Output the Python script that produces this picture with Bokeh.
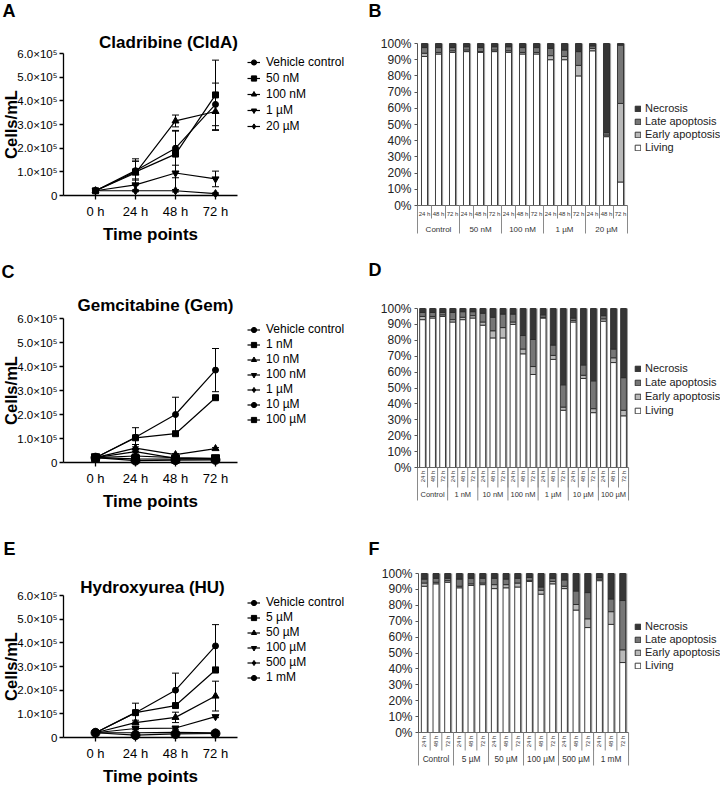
import math
from bokeh.plotting import figure
from bokeh.layouts import row, column
from bokeh.models import (ColumnDataSource, Range1d, FixedTicker, Whisker, TeeHead,
                          Legend, LegendItem, Label)
from bokeh.core.properties import value
from bokeh.embed import file_html
from bokeh.resources import INLINE

FONT = "Liberation Sans"

# ---------------- shared axis data ----------------
hours = [0, 24, 48, 72]
hour_labels = ["0 h", "24 h", "48 h", "72 h"]
count_ticks = [0, 100000, 200000, 300000, 400000, 500000, 600000]
count_tick_labels = ["0", "1.0×10⁵", "2.0×10⁵", "3.0×10⁵", "4.0×10⁵", "5.0×10⁵", "6.0×10⁵"]
pct_ticks = [0, 10, 20, 30, 40, 50, 60, 70, 80, 90, 100]
pct_tick_labels = ["0%", "10%", "20%", "30%", "40%", "50%", "60%", "70%", "80%", "90%", "100%"]
time_points = ["24 h", "48 h", "72 h"]
stage_names = ["Living", "Early apoptosis", "Late apoptosis", "Necrosis"]
stage_colors = ["#ffffff", "#b9b9b9", "#767676", "#363636"]

# ---------------- Panel A: Cladribine growth ----------------
cla_names = ["Vehicle control", "50 nM", "100 nM", "1 µM", "20 µM"]
cla_vehicle = [2.0e4, 1.05e5, 2.0e5, 3.85e5]
cla_vehicle_err = [0.3e4, 0.4e5, 0.72e5, 0.9e5]
cla_50nM = [2.0e4, 1.0e5, 1.75e5, 4.25e5]
cla_50nM_err = [0.3e4, 0.55e5, 1.0e5, 1.47e5]
cla_100nM = [2.0e4, 0.95e5, 3.15e5, 3.55e5]
cla_100nM_err = [0.3e4, 0.5e5, 0.25e5, 0.8e5]
cla_1uM = [2.0e4, 0.45e5, 0.95e5, 0.7e5]
cla_1uM_err = [0.3e4, 0.25e5, 0.95e5, 0.33e5]
cla_20uM = [2.0e4, 2.0e4, 2.0e4, 0.8e4]
cla_20uM_err = [0.2e4, 0.4e4, 0.5e4, 0.3e4]

# ---------------- Panel B: Cladribine apoptosis ----------------
cla_groups = ["Control", "50 nM", "100 nM", "1 µM", "20 µM"]
cla_living = [92, 93.5, 94.5, 95, 94.5, 95, 94.5, 93.5, 93.5, 90, 90, 80, 95.5, 42.5, 14.5]
cla_early = [2, 1, 1, 1, 0.5, 1, 1, 1, 1, 2.5, 2, 6.5, 1.5, 1, 48.5]
cla_late = [3.5, 3, 2, 2, 2.5, 2, 2.5, 3, 3, 4.5, 4, 8.5, 1.5, 1.5, 36]
cla_necrosis = [2.5, 2.5, 2.5, 2, 2.5, 2, 2, 2.5, 2.5, 3, 4, 5, 1.5, 55, 1]

# ---------------- Panel C: Gemcitabine growth ----------------
gem_names = ["Vehicle control", "1 nM", "10 nM", "100 nM", "1 µM", "10 µM", "100 µM"]
gem_vehicle = [2.0e4, 1.05e5, 2.0e5, 3.85e5]
gem_vehicle_err = [0.3e4, 0.4e5, 0.72e5, 0.9e5]
gem_1nM = [2.0e4, 1.03e5, 1.2e5, 2.7e5]
gem_1nM_err = [0.2e4, 0.05e5, 0.05e5, 0.06e5]
gem_10nM = [2.0e4, 0.6e5, 0.33e5, 0.58e5]
gem_10nM_err = [0.2e4, 0.15e5, 0.04e5, 0.04e5]
gem_100nM = [2.0e4, 0.27e5, 0.2e5, 0.17e5]
gem_100nM_err = [0.2e4, 0.05e5, 0.03e5, 0.03e5]
gem_1uM = [2.0e4, 0.45e5, 0.17e5, 0.14e5]
gem_1uM_err = [0.2e4, 0.12e5, 0.03e5, 0.02e5]
gem_10uM = [2.0e4, 0.08e5, 0.1e5, 0.11e5]
gem_10uM_err = [0.2e4, 0.02e5, 0.02e5, 0.02e5]
gem_100uM = [2.0e4, 0.15e5, 0.14e5, 0.16e5]
gem_100uM_err = [0.2e4, 0.02e5, 0.02e5, 0.02e5]

# ---------------- Panel D: Gemcitabine apoptosis ----------------
gem_groups = ["Control", "1 nM", "10 nM", "100 nM", "1 µM", "10 µM", "100 µM"]
gem_living = [93, 94, 95, 91.5, 93, 94, 89.5, 81.5, 81.5, 90, 71.5, 58.5, 94, 68, 36, 91.5, 56, 34.5, 92, 66, 32.5]
gem_early = [2, 1, 1, 1.5, 1.5, 1.5, 2, 4.5, 6.5, 1.5, 3, 5, 0.5, 2.5, 2, 1, 2, 2.5, 1.5, 3, 3.5]
gem_late = [2.5, 2.5, 1.5, 4.5, 3.5, 2.5, 5.5, 8.5, 8.5, 5, 8.5, 17, 1.5, 6.5, 14, 1.5, 6.5, 17.5, 2, 5.5, 20.5]
gem_necrosis = [2.5, 2.5, 2.5, 2.5, 2, 2, 3, 5.5, 3.5, 3.5, 17, 19.5, 4, 23, 48, 6, 35.5, 45.5, 4.5, 25.5, 43.5]

# ---------------- Panel E: Hydroxyurea growth ----------------
hu_names = ["Vehicle control", "5 µM", "50 µM", "100 µM", "500 µM", "1 mM"]
hu_vehicle = [2.0e4, 1.05e5, 2.0e5, 3.87e5]
hu_vehicle_err = [0.3e4, 0.4e5, 0.72e5, 0.9e5]
hu_5uM = [2.0e4, 1.05e5, 1.35e5, 2.85e5]
hu_5uM_err = [0.2e4, 0.05e5, 0.05e5, 0.1e5]
hu_50uM = [2.0e4, 0.63e5, 0.85e5, 1.75e5]
hu_50uM_err = [0.2e4, 0.1e5, 0.22e5, 0.63e5]
hu_100uM = [2.0e4, 0.38e5, 0.4e5, 0.88e5]
hu_100uM_err = [0.2e4, 0.05e5, 0.05e5, 0.04e5]
hu_500uM = [2.0e4, 0.2e5, 0.22e5, 0.2e5]
hu_500uM_err = [0.2e4, 0.03e5, 0.03e5, 0.02e5]
hu_1mM = [2.0e4, 0.1e5, 0.15e5, 0.17e5]
hu_1mM_err = [0.2e4, 0.02e5, 0.02e5, 0.02e5]

# ---------------- Panel F: Hydroxyurea apoptosis ----------------
hu_groups = ["Control", "5 µM", "50 µM", "100 µM", "500 µM", "1 mM"]
hu_living = [92, 93.5, 94.5, 91, 92.5, 93, 90.5, 91, 91.5, 95, 87, 93.5, 90.5, 77, 66, 95.5, 68, 44]
hu_early = [2, 1, 1, 1, 1, 1, 2.5, 2, 2.5, 0.5, 2.5, 1.5, 1.5, 3.5, 5.5, 1, 8, 8]
hu_late = [2.5, 2.5, 1.5, 4.5, 3.5, 3, 4, 3.5, 3, 2, 2, 2, 4, 8.5, 16.5, 1, 8, 31]
hu_necrosis = [3.5, 3, 3, 3.5, 3, 3, 3, 3.5, 3, 2.5, 8.5, 3, 4, 11, 12, 2.5, 16, 17]

LW, RW = 358, 362
LX, RX = 0, 358          # page x of left / right column


class Page:
    """Converts page pixel positions into frame-relative screen units."""
    def __init__(self, fx, fy, h):
        self.fx, self.fy, self.h = fx, fy, h

    def sx(self, px):
        return px - self.fx

    def sy(self, py):
        return self.fy + self.h - py


def add_label(p, pg, px, py, text, size, bold=True, align="left", baseline="top",
              angle=0.0, color="black"):
    p.add_layout(Label(x=pg.sx(px), y=pg.sy(py), x_units="screen", y_units="screen",
                       text=text, text_font=FONT, text_font_size=f"{size}px",
                       text_font_style="bold" if bold else "normal",
                       text_align=align, text_baseline=baseline, angle=angle,
                       text_color=color))


def line_panel(letter, title, names, means, errs, markers, sizes, fy, fig_h, y0_px, y6_px,
               title_c, letter_xy, legend_row1, legend_pitch):
    axis_px, h0_px, h72_px, xend_px = 63, 95, 215, 237
    k = (h72_px - h0_px) / 72.0
    x_start = -(h0_px - LX) / k
    x_end = x_start + LW / k
    ky = (y0_px - y6_px) / 600000.0
    y_start = -(fy + fig_h - y0_px) / ky
    y_end = y_start + fig_h / ky
    p = figure(width=LW, height=fig_h, x_range=Range1d(x_start, x_end),
               y_range=Range1d(y_start, y_end), output_backend="svg", toolbar_location=None,
               min_border=0, min_border_left=0, min_border_right=0, min_border_top=0,
               min_border_bottom=0)
    p.outline_line_color = None
    p.xgrid.visible = False
    p.ygrid.visible = False
    pg = Page(LX, fy, fig_h)
    x_axis_at = (axis_px - h0_px) / k
    xa, ya = p.xaxis[0], p.yaxis[0]
    xa.fixed_location = 0
    ya.fixed_location = x_axis_at
    xa.bounds = (x_axis_at, (xend_px - h0_px) / k)
    ya.bounds = (0, 600000)
    xa.ticker = FixedTicker(ticks=hours)
    xa.major_label_overrides = dict(zip(hours, hour_labels))
    ya.ticker = FixedTicker(ticks=count_ticks)
    ya.major_label_overrides = dict(zip(count_ticks, count_tick_labels))
    for ax in (xa, ya):
        ax.axis_line_width = 1.3
        ax.axis_line_color = "black"
        ax.major_tick_line_width = 1.3
        ax.major_tick_line_color = "black"
        ax.major_tick_out = 4
        ax.major_tick_in = 0
        ax.minor_tick_line_color = None
        ax.major_label_text_font = FONT
        ax.major_label_text_color = "black"
    ya.major_label_text_font_size = "11.5px"
    xa.major_label_text_font_size = "13px"
    xa.major_label_standoff = 4
    ya.major_label_standoff = 2
    xa.axis_label = "Time points"
    xa.axis_label_text_font = FONT
    xa.axis_label_text_font_size = "17px"
    xa.axis_label_text_font_style = "bold"
    xa.axis_label_text_color = "black"
    xa.axis_label_standoff = 3

    items = []
    for name, m, e, mk, sz in zip(names, means, errs, markers, sizes):
        src = ColumnDataSource(dict(x=hours, y=m,
                                    lo=[max(0.0, a - b) for a, b in zip(m, e)],
                                    hi=[a + b for a, b in zip(m, e)]))
        p.add_layout(Whisker(source=src, base="x", upper="hi", lower="lo",
                             line_color="black", line_width=1,
                             upper_head=TeeHead(size=7, line_color="black", line_width=1),
                             lower_head=TeeHead(size=7, line_color="black", line_width=1)))
        lr = p.line("x", "y", source=src, line_color="black", line_width=1.2)
        sr = p.scatter("x", "y", source=src, marker=mk, size=sz,
                       fill_color="black", line_color="black")
        items.append(LegendItem(label=name, renderers=[lr, sr]))

    n = len(names)
    row_h = int(round(legend_pitch))
    leg_h = n * row_h
    leg_top = legend_row1 - row_h / 2.0
    leg = Legend(items=items,
                 location=(pg.sx(247), fig_h - (leg_top - fy) - leg_h),
                 label_text_font=FONT, label_text_font_size="12px", label_text_color="black",
                 glyph_width=13, glyph_height=row_h, label_height=row_h,
                 label_standoff=6, spacing=0, padding=0, margin=0,
                 border_line_color=None, background_fill_alpha=0)
    p.add_layout(leg)

    add_label(p, pg, title_c[0], title_c[1], title, 17, align="center", baseline="middle")
    add_label(p, pg, letter_xy[0], letter_xy[1], letter, 18)
    add_label(p, pg, 10.5, (y0_px + y6_px) / 2.0, "Cells/mL", 16.5, align="center",
              baseline="middle", angle=math.pi / 2)
    return p


def bar_panel(letter, groups, living, early, late, necrosis, fy, fig_h, axis_px, zero_px, ppp,
              cell_px, bar_w, time_py, sep_py, grp_py, grp_sep_py, rotate, grp_fs, letter_xy,
              legend_row1, legend_pitch):
    n = len(living)
    x_start = -(axis_px - RX) / cell_px
    x_end = x_start + RW / cell_px
    y_start = -(fy + fig_h - zero_px) / ppp
    y_end = y_start + fig_h / ppp
    p = figure(width=RW, height=fig_h, x_range=Range1d(x_start, x_end),
               y_range=Range1d(y_start, y_end), output_backend="svg", toolbar_location=None,
               min_border=0, min_border_left=0, min_border_right=0, min_border_top=0,
               min_border_bottom=0)
    p.outline_line_color = None
    p.xgrid.visible = False
    p.ygrid.visible = False
    p.xaxis.visible = False
    pg = Page(RX, fy, fig_h)
    ya = p.yaxis[0]
    ya.fixed_location = 0
    ya.bounds = (0, 100)
    ya.ticker = FixedTicker(ticks=pct_ticks)
    ya.major_label_overrides = dict(zip(pct_ticks, pct_tick_labels))
    ya.axis_line_color = "#555555"
    ya.axis_line_width = 1
    ya.major_tick_line_color = "#555555"
    ya.major_tick_out = 3
    ya.major_tick_in = 0
    ya.minor_tick_line_color = None
    ya.major_label_standoff = 3
    ya.major_label_text_font = FONT
    ya.major_label_text_font_size = "12px"
    ya.major_label_text_color = "#222222"

    def ydat(py):
        return (zero_px - py) / ppp

    times = [time_points[i % 3] for i in range(n)]
    xs = [i + 0.5 for i in range(n)]
    totals = [a + b + c + d for a, b, c, d in zip(living, early, late, necrosis)]
    shift = 1.6 / cell_px
    # grey right-hand edge of every column (shadow)
    p.vbar(x=[v + shift for v in xs], top=totals, bottom=0, width=bar_w,
           fill_color="#9a9a9a", line_color=None)
    src = ColumnDataSource(dict(x=xs, Living=living, Early=early, Late=late, Necrosis=necrosis))
    rs = p.vbar_stack(["Living", "Early", "Late", "Necrosis"], x="x", width=bar_w, source=src,
                      fill_color=stage_colors, line_color="#2a2a2a", line_width=0.9)

    # category table under the bars
    bounds = list(range(n + 1))
    p.segment(x0=[0], y0=[0], x1=[n], y1=[0], line_color="#666666", line_width=1)
    p.segment(x0=bounds, y0=[0] * len(bounds), x1=bounds, y1=[ydat(sep_py)] * len(bounds),
              line_color="#8a8a8a", line_width=1)
    gb = [3 * g for g in range(len(groups) + 1)]
    p.segment(x0=gb, y0=[0] * len(gb), x1=gb, y1=[ydat(grp_sep_py)] * len(gb),
              line_color="#8a8a8a", line_width=1)
    p.text(x=xs, y=[ydat(time_py)] * n, text=times, angle=(math.pi / 2 if rotate else 0),
           text_align="center", text_baseline="middle", text_font=value(FONT),
           text_font_size="6px", text_color="#333333")
    gx = [3 * g + 1.5 for g in range(len(groups))]
    p.text(x=gx, y=[ydat(grp_py)] * len(groups), text=groups, text_align="center",
           text_baseline="middle", text_font=value(FONT), text_font_size=f"{grp_fs}px",
           text_color="#333333")

    items = [LegendItem(label=stage_names[i], renderers=[rs[i]]) for i in (3, 2, 1, 0)]
    row_h = int(round(legend_pitch))
    leg_h = 4 * row_h
    leg_top = legend_row1 - row_h / 2.0
    leg = Legend(items=items, location=(pg.sx(634), fig_h - (leg_top - fy) - leg_h),
                 label_text_font=FONT, label_text_font_size="11px", label_text_color="#222222",
                 glyph_width=7, glyph_height=7, label_height=row_h, label_standoff=4,
                 spacing=0, padding=0, margin=0, border_line_color=None,
                 background_fill_alpha=0)
    p.add_layout(leg)

    add_label(p, pg, letter_xy[0], letter_xy[1], letter, 18)
    return p


pA = line_panel("A", "Cladribine (CldA)", cla_names,
                [cla_vehicle, cla_50nM, cla_100nM, cla_1uM, cla_20uM],
                [cla_vehicle_err, cla_50nM_err, cla_100nM_err, cla_1uM_err, cla_20uM_err],
                ["circle", "square", "triangle", "inverted_triangle", "diamond"],
                [6, 6, 7, 7, 8],
                fy=0, fig_h=250, y0_px=195, y6_px=53, title_c=(168, 42), letter_xy=(2, 0),
                legend_row1=62, legend_pitch=16)
pB = bar_panel("B", cla_groups, cla_living, cla_early, cla_late, cla_necrosis,
               fy=0, fig_h=250, axis_px=417, zero_px=205, ppp=1.62, cell_px=14.0, bar_w=0.43,
               time_py=213, sep_py=218, grp_py=229, grp_sep_py=233, rotate=False, grp_fs=8,
               letter_xy=(368, 0), legend_row1=108, legend_pitch=13.4)
pC = line_panel("C", "Gemcitabine (Gem)", gem_names,
                [gem_vehicle, gem_1nM, gem_10nM, gem_100nM, gem_1uM, gem_10uM, gem_100uM],
                [gem_vehicle_err, gem_1nM_err, gem_10nM_err, gem_100nM_err, gem_1uM_err,
                 gem_10uM_err, gem_100uM_err],
                ["circle", "square", "triangle", "inverted_triangle", "diamond", "circle", "square"],
                [6, 6, 7, 7, 8, 9, 8],
                fy=250, fig_h=262, y0_px=462, y6_px=318, title_c=(155, 305), letter_xy=(1, 261),
                legend_row1=329, legend_pitch=15.2)
pD = bar_panel("D", gem_groups, gem_living, gem_early, gem_late, gem_necrosis,
               fy=250, fig_h=262, axis_px=417, zero_px=467, ppp=1.59, cell_px=10.05, bar_w=0.57,
               time_py=476, sep_py=487, grp_py=494, grp_sep_py=500, rotate=True, grp_fs=7.5,
               letter_xy=(368, 259), legend_row1=368, legend_pitch=13.7)
pE = line_panel("E", "Hydroxyurea (HU)", hu_names,
                [hu_vehicle, hu_5uM, hu_50uM, hu_100uM, hu_500uM, hu_1mM],
                [hu_vehicle_err, hu_5uM_err, hu_50uM_err, hu_100uM_err, hu_500uM_err, hu_1mM_err],
                ["circle", "square", "triangle", "inverted_triangle", "diamond", "circle"],
                [6, 6, 7, 7, 8, 9],
                fy=512, fig_h=274, y0_px=737, y6_px=595, title_c=(152, 587), letter_xy=(3, 538),
                legend_row1=602, legend_pitch=15.2)
pF = bar_panel("F", hu_groups, hu_living, hu_early, hu_late, hu_necrosis,
               fy=512, fig_h=274, axis_px=418, zero_px=732, ppp=1.59, cell_px=11.67, bar_w=0.51,
               time_py=741, sep_py=750, grp_py=758, grp_sep_py=765, rotate=True, grp_fs=8.3,
               letter_xy=(368, 538), legend_row1=626, legend_pitch=13.3)

layout = column(row(pA, pB), row(pC, pD), row(pE, pF))
open("out.html", "w").write(file_html(layout, INLINE))
